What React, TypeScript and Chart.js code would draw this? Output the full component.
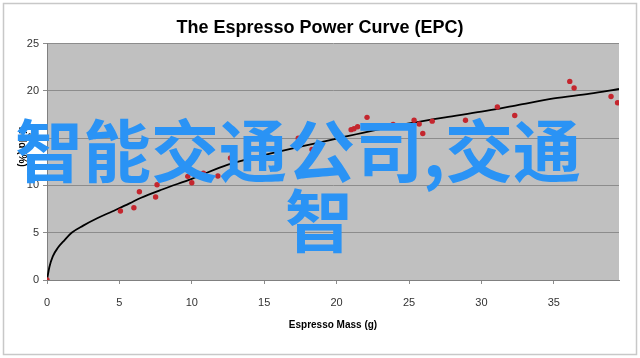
import React, { useEffect, useRef } from "react";
import { Chart, registerables } from "chart.js";

Chart.register(...registerables);

// Fitted power curve
const curveX = [0, 0.17, 0.4, 0.75, 1.2, 1.7, 2.5, 3.5, 4.5, 5.7, 6.5, 8, 10, 12.5, 15, 17.5, 20, 22.5, 25, 27.5, 30, 32.5, 35, 37.5, 39.5];
const curveY = [0, 1.4, 2.5, 3.4, 4.2, 5.0, 5.75, 6.55, 7.25, 8.1, 8.7, 9.6, 10.7, 12.2, 13.2, 14.1, 14.95, 15.8, 16.55, 17.2, 17.8, 18.5, 19.2, 19.7, 20.2];

// Measured shots (red points)
const pointX = [0, 5.07, 6.0, 6.38, 7.5, 7.6, 9.72, 10.0, 10.8, 11.8, 12.67, 17.35, 18.3, 21.0, 21.2, 21.45, 22.1, 23.9, 25.35, 25.7, 25.95, 26.6, 28.9, 31.1, 32.3, 36.1, 36.4, 38.95, 39.4];
const pointY = [0, 7.3, 7.64, 9.33, 8.77, 10.07, 10.96, 10.29, 11.3, 11.0, 12.9, 15.0, 13.8, 15.9, 16.0, 16.2, 17.2, 16.45, 16.9, 16.5, 15.5, 16.8, 16.9, 18.3, 17.4, 21.0, 20.3, 19.4, 18.75];

const xTickValues = [0, 5, 10, 15, 20, 25, 30, 35];
const yTickValues = [0, 5, 10, 15, 20, 25];
const xMin = 0;
const xMax = 39.5;
const yMin = 0;
const yMax = 25;

const chartTitle = "The Espresso Power Curve (EPC)";
const xTitle = "Espresso Mass (g)";
const yTitle = "Yield (%)";
const overlayLine1 = "智能交通公司,交通";
const overlayLine2 = "智";

const FONT = "'Liberation Sans', Arial, sans-serif";

export default function App() {
  const ref = useRef<HTMLCanvasElement | null>(null);

  useEffect(() => {
    document.body.style.margin = "0";
    const canvas = ref.current;
    if (!canvas) return;

    const bgPlugin = {
      id: "bgPlugin",
      beforeDraw(chart: any) {
        const { ctx, chartArea: a, width, height } = chart;
        ctx.save();
        ctx.fillStyle = "#ffffff";
        ctx.fillRect(0, 0, width, height);
        ctx.strokeStyle = "#c8c8c8";
        ctx.lineWidth = 1.5;
        ctx.strokeRect(3.5, 3.5, width - 7, height - 7);
        ctx.fillStyle = "#c0c0c0";
        ctx.fillRect(a.left, a.top, a.right - a.left, a.bottom - a.top);
        ctx.restore();
      },
      afterDraw(chart: any) {
        const { ctx, chartArea: a } = chart;
        ctx.save();
        ctx.translate(22, (a.top + a.bottom) / 2 - 16);
        ctx.rotate(Math.PI / 2);
        ctx.font = `bold 10px ${FONT}`;
        ctx.fillStyle = "#000";
        ctx.textAlign = "center";
        ctx.textBaseline = "middle";
        ctx.fillText(yTitle, 0, 0);
        ctx.restore();
      },
    };

    const chart = new Chart(canvas, {
      type: "scatter",
      data: {
        datasets: [
          {
            label: "Shots",
            data: pointX.map((x, i) => ({ x, y: pointY[i] })),
            backgroundColor: "#c4262e",
            borderWidth: 0,
            pointRadius: 2.7,
            showLine: false,
          },
          {
            label: "EPC",
            data: curveX.map((x, i) => ({ x, y: curveY[i] })),
            borderColor: "#000000",
            borderWidth: 1.8,
            pointRadius: 0,
            showLine: true,
            cubicInterpolationMode: "monotone",
          },
        ],
      },
      options: {
        responsive: false,
        animation: false,
        devicePixelRatio: 1,
        layout: { padding: 0 },
        plugins: {
          legend: { display: false },
          tooltip: { enabled: false },
          title: {
            display: true,
            text: chartTitle,
            color: "#000",
            font: { family: FONT, size: 18, weight: "bold" },
            padding: { top: 17, bottom: 5 },
          },
        },
        scales: {
          x: {
            type: "linear",
            min: xMin,
            max: xMax,
            afterBuildTicks: (s: any) => {
              s.ticks = xTickValues.map((v) => ({ value: v }));
            },
            afterFit: (s: any) => {
              s.height = 78;
            },
            grid: {
              drawOnChartArea: false,
              drawTicks: true,
              tickLength: 4,
              color: "#8c8c8c",
              tickColor: "#8c8c8c",
            },
            border: { display: true, color: "#808080", width: 1 },
            ticks: {
              color: "#333",
              padding: 12,
              maxRotation: 0,
              font: { family: FONT, size: 11 },
            },
            title: {
              display: true,
              text: xTitle,
              color: "#000",
              font: { family: FONT, size: 10, weight: "bold" },
              padding: { top: 4, bottom: 27 },
            },
          },
          y: {
            type: "linear",
            min: yMin,
            max: yMax,
            afterBuildTicks: (s: any) => {
              s.ticks = yTickValues.map((v) => ({ value: v }));
            },
            afterFit: (s: any) => {
              s.width = 47;
            },
            grid: {
              color: "#8c8c8c",
              tickColor: "#8c8c8c",
              tickLength: 4,
              lineWidth: 1,
            },
            border: { display: true, color: "#808080", width: 1 },
            ticks: {
              color: "#333",
              padding: 4,
              font: { family: FONT, size: 11 },
            },
            title: { display: false },
          },
          y2: {
            type: "linear",
            position: "right",
            display: true,
            afterFit: (s: any) => {
              s.width = 21;
            },
            grid: { display: false, drawTicks: false },
            border: { display: false },
            ticks: { display: false },
          },
        },
      },
      plugins: [bgPlugin],
    } as any);

    return () => chart.destroy();
  }, []);

  const overlayStyle: React.CSSProperties = {
    position: "absolute",
    fontFamily: "'Noto Sans CJK SC', sans-serif",
    fontWeight: 700,
    fontSize: 68,
    lineHeight: "68px",
    color: "#2a93f5",
    whiteSpace: "nowrap",
    pointerEvents: "none",
  };

  return (
    <div style={{ position: "relative", width: 640, height: 358, background: "#fff" }}>
      <canvas ref={ref} width={640} height={358} style={{ display: "block" }} />
      <div style={{ ...overlayStyle, left: 15, top: 114 }}>{overlayLine1}</div>
      <div style={{ ...overlayStyle, left: 285, top: 184 }}>{overlayLine2}</div>
    </div>
  );
}
